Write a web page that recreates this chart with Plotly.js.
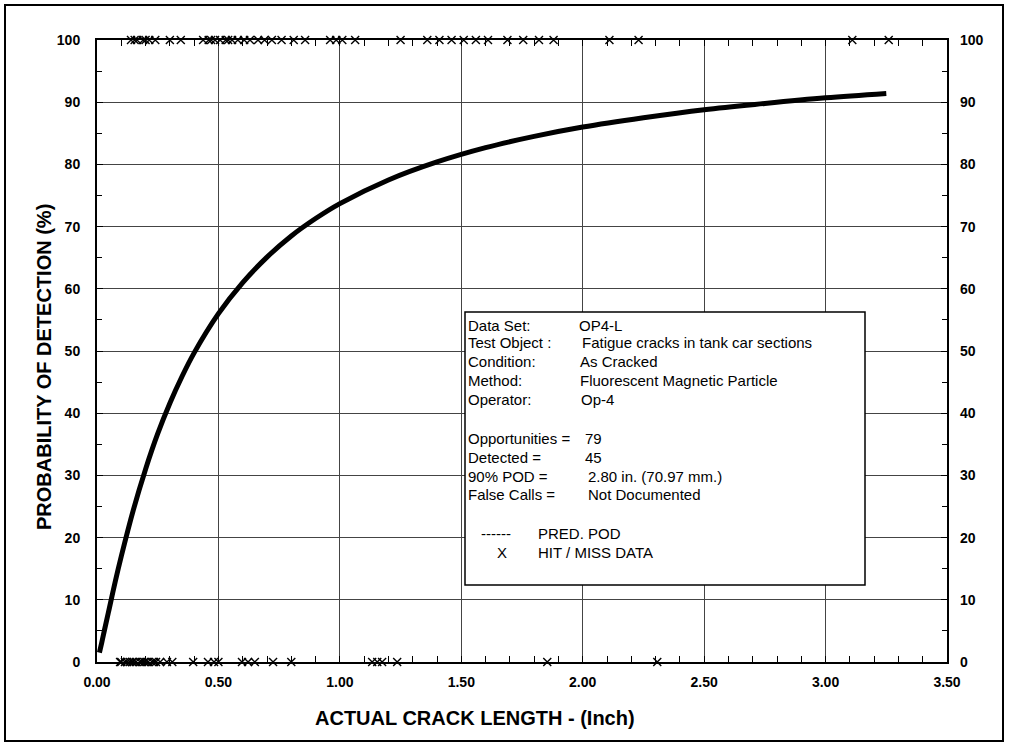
<!DOCTYPE html>
<html>
<head>
<meta charset="utf-8">
<script src="https://cdn.plot.ly/plotly-3.0.1.min.js"></script>
<style>html,body{margin:0;padding:0;background:#fff;}#chart{width:1010px;height:748px;}</style>
</head>
<body>
<div id="chart"></div>
<script>
// Predicted POD curve (crack length in inches, POD in %)
const podLength = [0.01, 0.02, 0.03, 0.05, 0.075, 0.10, 0.15, 0.20, 0.25, 0.30, 0.35, 0.40, 0.50, 0.60, 0.70, 0.80, 0.90, 1.00, 1.20, 1.40, 1.60, 1.80, 2.00, 2.25, 2.50, 2.75, 3.00, 3.25];
const podValue  = [1.5, 3.2, 5.0, 8.5, 12.9, 17.0, 24.5, 31.0, 36.7, 41.6, 45.9, 49.7, 56.0, 61.0, 65.1, 68.5, 71.3, 73.7, 77.5, 80.4, 82.7, 84.5, 86.0, 87.5, 88.8, 89.8, 90.7, 91.4];

// Hit data (detected, plotted at 100%)
const hitLength = [0.14, 0.155, 0.165, 0.19, 0.20, 0.215, 0.24, 0.30, 0.345,
  0.437, 0.46, 0.47, 0.486, 0.507, 0.53, 0.54, 0.556, 0.58, 0.606, 0.63, 0.663, 0.69, 0.72, 0.76, 0.81, 0.857,
  0.96, 0.985, 1.01, 1.063, 1.25,
  1.36, 1.41, 1.46, 1.51, 1.56, 1.61,
  1.69, 1.755, 1.82, 1.88,
  2.11, 2.23, 3.11, 3.26];
// Miss data (not detected, plotted at 0%)
const missLength = [0.095, 0.10, 0.115, 0.124, 0.135, 0.144, 0.15, 0.16, 0.177, 0.185, 0.194, 0.20, 0.21, 0.227, 0.235, 0.243, 0.26, 0.288, 0.31,
  0.396, 0.457, 0.482, 0.50, 0.597, 0.622, 0.65, 0.725, 0.80,
  1.133, 1.154, 1.174, 1.236, 1.854, 2.307];

const xTickVals = [0, 0.5, 1.0, 1.5, 2.0, 2.5, 3.0, 3.5];
const xTickText = ['0.00', '0.50', '1.00', '1.50', '2.00', '2.50', '3.00', '3.50'];
const yTickVals = [0, 10, 20, 30, 40, 50, 60, 70, 80, 90, 100];

const infoLabels = ['Data Set:', 'Test Object :', 'Condition:', 'Method:', 'Operator:', 'Opportunities =', 'Detected =', '90% POD =', 'False Calls ='];
const infoValues = ['OP4-L', 'Fatigue cracks in tank car sections', 'As Cracked', 'Fluorescent Magnetic Particle', 'Op-4', '79', '45', '2.80 in. (70.97 mm.)', 'Not Documented'];

// layout helpers: pixel -> paper (plot area: x 97..947, y 40..662)
const L = 97, R = 947, T = 40, B = 662;
const px = v => (v - L) / (R - L);
const py = v => (B - v) / (B - T);

const hitY = hitLength.map(() => 100);
const missY = missLength.map(() => 0);

const markerStyle = {symbol: 'x-thin-open', size: 8, color: '#000', line: {color: '#000', width: 1.4}};

const traces = [
  {x: podLength, y: podValue, mode: 'lines', line: {color: '#000', width: 5, shape: 'spline'}, hoverinfo: 'skip', showlegend: false, cliponaxis: false},
  {x: hitLength, y: hitY, mode: 'markers', marker: markerStyle, cliponaxis: false, showlegend: false},
  {x: missLength, y: missY, mode: 'markers', marker: markerStyle, cliponaxis: false, showlegend: false},
  {x: [0], y: [0], yaxis: 'y2', mode: 'markers', marker: {opacity: 0}, hoverinfo: 'skip', showlegend: false}
];

const fontFam = 'Liberation Sans, Arial, sans-serif';
const tickFont = {family: fontFam, size: 14, color: '#000', weight: 'bold'};
const boxFont = {family: fontFam, size: 15, color: '#000'};
const titleFont = {family: fontFam, size: 20, color: '#000', weight: 'bold'};

const textY = [325, 342, 361, 380, 399, 438, 457, 476, 494];
const valX = [577, 580, 578, 578, 579, 583, 583, 586, 586];
const annotations = [];
infoLabels.forEach((t, i) => {
  annotations.push({xref: 'paper', yref: 'paper', x: px(466), y: py(textY[i]), xanchor: 'left', yanchor: 'middle', text: t, showarrow: false, font: boxFont});
  annotations.push({xref: 'paper', yref: 'paper', x: px(valX[i]), y: py(textY[i]), xanchor: 'left', yanchor: 'middle', text: infoValues[i], showarrow: false, font: boxFont});
});
annotations.push({xref: 'paper', yref: 'paper', x: px(479), y: py(533), xanchor: 'left', yanchor: 'middle', text: '------', showarrow: false, font: boxFont});
annotations.push({xref: 'paper', yref: 'paper', x: px(536), y: py(533), xanchor: 'left', yanchor: 'middle', text: 'PRED. POD', showarrow: false, font: boxFont});
annotations.push({xref: 'paper', yref: 'paper', x: px(495), y: py(552), xanchor: 'left', yanchor: 'middle', text: 'X', showarrow: false, font: boxFont});
annotations.push({xref: 'paper', yref: 'paper', x: px(536), y: py(552), xanchor: 'left', yanchor: 'middle', text: 'HIT / MISS DATA', showarrow: false, font: boxFont});
// axis titles
annotations.push({xref: 'paper', yref: 'paper', x: px(475), y: py(718), xanchor: 'center', yanchor: 'middle', text: 'ACTUAL CRACK LENGTH - (Inch)', showarrow: false, font: titleFont});
annotations.push({xref: 'paper', yref: 'paper', x: px(44), y: py(367), xanchor: 'center', yanchor: 'middle', textangle: -90, text: 'PROBABILITY OF DETECTION (%)', showarrow: false, font: titleFont});

const layout = {
  width: 1010, height: 748,
  margin: {l: L, r: 1010 - R, t: T, b: 748 - B, pad: 0},
  paper_bgcolor: '#fff', plot_bgcolor: '#fff',
  showlegend: false,
  xaxis: {
    range: [0, 3.5], tickvals: xTickVals, ticktext: xTickText, tickfont: tickFont,
    showgrid: true, gridcolor: '#444', gridwidth: 1, zeroline: false,
    showline: true, linecolor: '#000', linewidth: 2, mirror: 'allticks',
    ticks: 'inside', ticklen: 6, tickcolor: '#000', tickwidth: 1,
    minor: {dtick: 0.1, ticks: 'inside', ticklen: 5, tickcolor: '#000', tickwidth: 1, showgrid: false},
    ticklabelstandoff: 6
  },
  yaxis: {
    range: [0, 100], tickvals: yTickVals, tickfont: tickFont,
    showgrid: true, gridcolor: '#444', gridwidth: 1, zeroline: false,
    showline: true, linecolor: '#000', linewidth: 2, mirror: 'allticks',
    ticks: 'inside', ticklen: 6, tickcolor: '#000', tickwidth: 1,
    minor: {dtick: 5, ticks: 'inside', ticklen: 5, tickcolor: '#000', tickwidth: 1, showgrid: false},
    ticklabelstandoff: 12
  },
  yaxis2: {
    overlaying: 'y', side: 'right', range: [0, 100], tickvals: yTickVals, tickfont: tickFont,
    showgrid: false, zeroline: false, showline: false, ticks: '', ticklabelstandoff: 12
  },
  shapes: [
    {type: 'rect', xref: 'paper', yref: 'paper', x0: px(465), x1: px(865), y0: py(585), y1: py(312), line: {color: '#000', width: 1.5}, fillcolor: '#fff', layer: 'above'},
    {type: 'rect', xref: 'paper', yref: 'paper', x0: px(5), x1: px(1003), y0: py(741), y1: py(5), line: {color: '#000', width: 2}, fillcolor: 'rgba(0,0,0,0)', layer: 'above'}
  ],
  annotations: annotations
};

Plotly.newPlot('chart', traces, layout, {displayModeBar: false, staticPlot: true});
</script>
</body>
</html>
